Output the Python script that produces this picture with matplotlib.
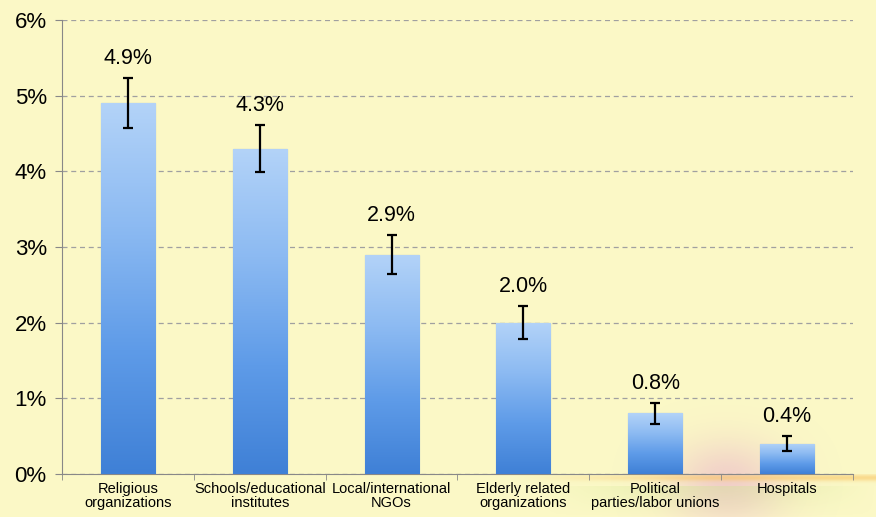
import matplotlib
matplotlib.use("Agg")
import matplotlib.pyplot as plt
import numpy as np
from matplotlib.colors import LinearSegmentedColormap

categories = ["Religious\norganizations", "Schools/educational\ninstitutes",
              "Local/international\nNGOs", "Elderly related\norganizations",
              "Political\nparties/labor unions", "Hospitals"]
values = [4.9, 4.3, 2.9, 2.0, 0.8, 0.4]
errors = [0.33, 0.31, 0.26, 0.22, 0.14, 0.10]
labels = ["4.9%", "4.3%", "2.9%", "2.0%", "0.8%", "0.4%"]
yticks = [0, 1, 2, 3, 4, 5, 6]

bg = "#FBF8C6"
fig = plt.figure(figsize=(8.76, 5.17), dpi=100, facecolor=bg)
ax = fig.add_axes([0.0708, 0.0832, 0.9029, 0.8781], facecolor=bg)

# soft decoration bottom right (pink haze + warm band under the axis)
deco = fig.add_axes([0.66, 0.0, 0.34, 0.32], zorder=-1)
yy, xx = np.mgrid[0:1:120j, 0:1:200j]
window = np.sin(np.pi * xx) ** 2 * np.sin(np.pi * np.clip(yy * 0.5 + 0.5, 0, 1)) ** 2
haze = np.exp(-((xx - 0.5) ** 2) / 0.06 - (yy - 0.25) ** 2 / 0.08) * window
img = np.ones((120, 200, 4))
img[..., 0] = 0.90
img[..., 1] = 0.62
img[..., 2] = 0.80
img[..., 3] = 0.5 * haze
deco.imshow(img, origin="lower", extent=[0, 1, 0, 1], aspect="auto")
deco.axis("off")

band = fig.add_axes([0.58, 0.050, 0.42, 0.034], zorder=-1)
by, bx = np.mgrid[0:1:20j, 0:1:200j]
bimg = np.ones((20, 200, 4))
bimg[..., 0] = 0.98
bimg[..., 1] = 0.78
bimg[..., 2] = 0.40
bimg[..., 3] = 0.6 * np.clip(bx * 1.8, 0, 1) * np.exp(-((by - 0.75) ** 2) / 0.04)
band.imshow(bimg, origin="lower", extent=[0, 1, 0, 1], aspect="auto")
band.axis("off")

green = fig.add_axes([0.62, 0.0, 0.38, 0.06], zorder=-1)
gy, gx = np.mgrid[0:1:20j, 0:1:200j]
gimg = np.ones((20, 200, 4))
gimg[..., 0] = 0.80
gimg[..., 1] = 0.90
gimg[..., 2] = 0.55
gimg[..., 3] = 0.35 * np.sin(np.pi * gx) * gy
green.imshow(gimg, origin="lower", extent=[0, 1, 0, 1], aspect="auto")
green.axis("off")

ax.set_zorder(1)
ax.patch.set_alpha(0)

x = np.arange(len(categories))
width = 0.41
bars = ax.bar(x, values, width, color="#6FA6EC", edgecolor="#4F86CF", linewidth=0.8, zorder=3)

cmap = LinearSegmentedColormap.from_list("b", ["#3F80D6", "#5E9BE8", "#8CBAF2", "#B3D3F8"])
grad = np.linspace(0, 1, 256).reshape(-1, 1)
for b in bars:
    x0, y0 = b.get_x(), b.get_y()
    w, h = b.get_width(), b.get_height()
    im = ax.imshow(grad, cmap=cmap, origin="lower", extent=[x0, x0 + w, y0, y0 + h],
                   aspect="auto", zorder=3.1)
    im.set_clip_path(b)

ax.errorbar(x, values, yerr=errors, fmt="none", ecolor="black", elinewidth=1.6,
            capsize=3.5, capthick=1.6, zorder=4)

for xi, v, e, lab in zip(x, values, errors, labels):
    ax.text(xi, v + e + 0.12, lab, ha="center", va="bottom", fontsize=15.5,
            family="Liberation Sans", zorder=5)

ax.set_xlim(-0.5, len(categories) - 0.5)
ax.set_ylim(0, 6)
ax.set_yticks(yticks)
ax.set_yticklabels([f"{t}%" for t in yticks], fontsize=16, family="Liberation Sans")
ax.yaxis.grid(True, linestyle=(0, (4, 3)), color="#A0A0A0", linewidth=0.9)
ax.set_axisbelow(True)

ax.set_xticks(x)
ax.set_xticklabels(categories, fontsize=10.5, family="Liberation Sans", linespacing=1.0)
ax.set_xticks(np.arange(len(categories) + 1) - 0.5, minor=True)
ax.tick_params(axis="x", which="major", length=0, pad=6)
ax.tick_params(axis="x", which="minor", length=4, color="#888888")
ax.tick_params(axis="y", length=5, color="#888888", pad=6)

for s in ["top", "right"]:
    ax.spines[s].set_visible(False)
for s in ["left", "bottom"]:
    ax.spines[s].set_color("#888888")

fig.savefig("out.png", dpi=100, facecolor=bg)
